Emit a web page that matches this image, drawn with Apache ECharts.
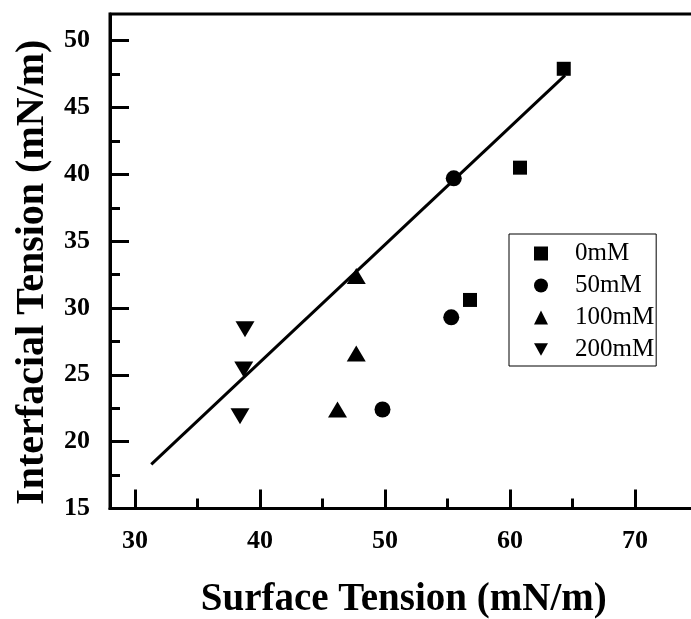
<!DOCTYPE html>
<html>
<head>
<meta charset="utf-8">
<script src="https://cdn.jsdelivr.net/npm/echarts@6/dist/echarts.min.js"></script>
<style>
  html, body { margin: 0; padding: 0; background: #fff; }
  #chart { width: 691px; height: 619px; }
</style>
</head>
<body>
<div id="chart"></div>
<script>
// data
var names = ["0mM", "50mM", "100mM", "200mM"];
var x0mM = [64.3, 60.8, 56.8];
var y0mM = [47.9, 40.5, 30.6];
var x50mM = [55.5, 55.3, 49.8];
var y50mM = [39.7, 29.3, 22.4];
var x100mM = [47.7, 47.7, 46.2];
var y100mM = [32.4, 26.6, 22.4];
var x200mM = [38.8, 38.7, 38.4];
var y200mM = [28.4, 25.4, 21.9];
// fitted line end points
var fitX = [31.3, 64.4];
var fitY = [18.3, 47.4];

// tick labels
var xMajor = [30, 40, 50, 60, 70];
var xMinor = [35, 45, 55, 65];
var yMajor = [15, 20, 25, 30, 35, 40, 45, 50];
var yMinor = [17.5, 22.5, 27.5, 32.5, 37.5, 42.5, 47.5];

function pairs(xs, ys) {
  return xs.map(function (x, i) { return [x, ys[i]]; });
}

var font = "'Liberation Serif', 'Times New Roman', serif";

var chart = echarts.init(document.getElementById("chart"));

var baseX = { type: "value", min: 28, max: 75, gridIndex: 0, position: "bottom" };
var baseY = { type: "value", min: 15, max: 52, gridIndex: 0, position: "left" };

chart.setOption({
  animation: false,
  backgroundColor: "#fff",
  grid: {
    // right side of the frame runs past the picture edge
    left: 110, top: 14, width: 587.5, height: 494.4,
    outerBoundsMode: "none",
    containLabel: false,
    show: true, borderColor: "#000", borderWidth: 3
  },
  legend: {
    orient: "vertical",
    left: 509, top: 234,
    padding: [7, 2, 4, 25],
    itemWidth: 14, itemHeight: 14, itemGap: 7,
    borderColor: "#000", borderWidth: 1,
    data: names,
    formatter: "{t|{name}}",
    textStyle: {
      rich: {
        t: { fontFamily: font, fontSize: 25, color: "#000", lineHeight: 24, padding: [0, 0, 0, 22] }
      }
    }
  },
  xAxis: [
    Object.assign({}, baseX, {
      name: "Surface Tension (mN/m)",
      nameLocation: "middle",
      nameGap: 72,
      nameTextStyle: { fontFamily: font, fontSize: 39, fontWeight: "bold", color: "#000" },
      axisLine: { show: true, lineStyle: { color: "#000", width: 3 } },
      axisTick: { inside: true, length: 19, lineStyle: { color: "#000", width: 3 }, customValues: xMajor },
      axisLabel: { margin: 20, fontFamily: font, fontSize: 26, fontWeight: "bold", color: "#000", customValues: xMajor },
      splitLine: { show: false }
    }),
    Object.assign({}, baseX, {
      axisLine: { show: false },
      axisTick: { inside: true, length: 10, lineStyle: { color: "#000", width: 3 }, customValues: xMinor },
      axisLabel: { show: false },
      splitLine: { show: false }
    })
  ],
  yAxis: [
    Object.assign({}, baseY, {
      name: "Interfacial Tension (mN/m)",
      nameLocation: "middle",
      nameGap: 57,
      nameTextStyle: { fontFamily: font, fontSize: 40, fontWeight: "bold", color: "#000", padding: [0, 22, 0, 0] },
      axisLine: { show: true, lineStyle: { color: "#000", width: 3 } },
      axisTick: { inside: true, length: 19, lineStyle: { color: "#000", width: 3 }, customValues: yMajor },
      axisLabel: { margin: 20, fontFamily: font, fontSize: 26, fontWeight: "bold", color: "#000", customValues: yMajor },
      splitLine: { show: false }
    }),
    Object.assign({}, baseY, {
      axisLine: { show: false },
      axisTick: { inside: true, length: 10, lineStyle: { color: "#000", width: 3 }, customValues: yMinor },
      axisLabel: { show: false },
      splitLine: { show: false }
    })
  ],
  series: [
    {
      type: "line",
      data: pairs(fitX, fitY),
      symbol: "none",
      lineStyle: { color: "#000", width: 3 },
      z: 1
    },
    {
      name: names[0], type: "scatter", data: pairs(x0mM, y0mM),
      symbol: "rect", symbolSize: 14, itemStyle: { color: "#000", opacity: 1 }, z: 3
    },
    {
      name: names[1], type: "scatter", data: pairs(x50mM, y50mM),
      symbol: "circle", symbolSize: 16, itemStyle: { color: "#000", opacity: 1 }, z: 3
    },
    {
      name: names[2], type: "scatter", data: pairs(x100mM, y100mM),
      symbol: "triangle", symbolSize: [19, 16], itemStyle: { color: "#000", opacity: 1 }, z: 3
    },
    {
      name: names[3], type: "scatter", data: pairs(x200mM, y200mM),
      symbol: "path://M0,0L10,0L5,9Z", symbolSize: [19, 16], itemStyle: { color: "#000", opacity: 1 }, z: 3
    }
  ]
});
</script>
</body>
</html>
